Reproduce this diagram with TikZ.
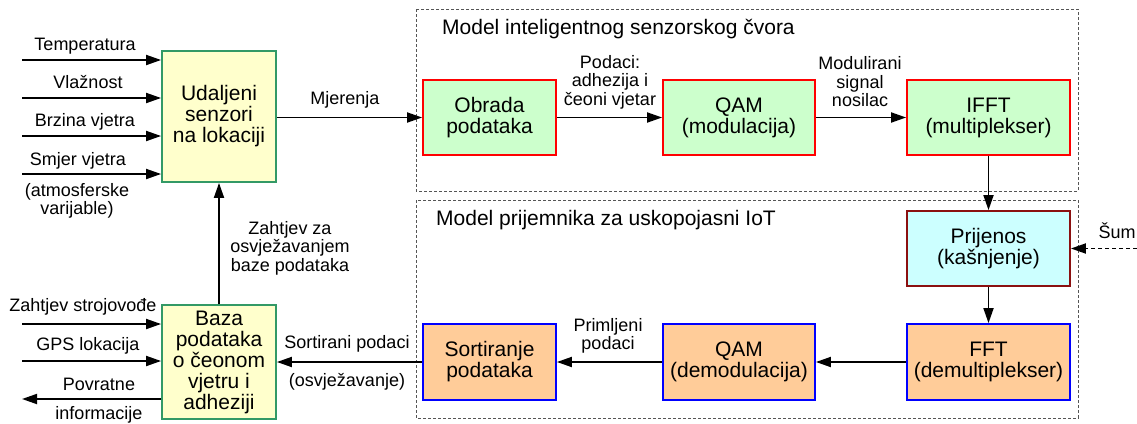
\documentclass[tikz,border=0pt]{standalone}
\usepackage{fontspec}
\setmainfont{Liberation Sans}
\usetikzlibrary{arrows.meta}
\definecolor{yfill}{HTML}{FFFFCC}
\definecolor{ydraw}{HTML}{339966}
\definecolor{gfill}{HTML}{CCFFCC}
\definecolor{ofill}{HTML}{FFCC99}
\definecolor{cfill}{HTML}{CCFFFF}
\definecolor{dred}{HTML}{8B1010}
\definecolor{frame}{HTML}{555555}
\tikzset{
  box/.style={draw, line width=1.8pt, align=center, inner sep=0pt,
    font=\fontsize{21}{21}\selectfont},
  ybox/.style={box, fill=yfill, draw=ydraw},
  gbox/.style={box, fill=gfill, draw=red},
  obox/.style={box, fill=ofill, draw=blue},
  cbox/.style={box, fill=cfill, draw=dred},
  lbl/.style={align=center, inner sep=0pt, font=\fontsize{18}{18.5}\selectfont},
  ttl/.style={inner sep=0pt, anchor=base west, font=\fontsize{21}{21}\selectfont},
  arr/.style={line width=1.8pt, -{Triangle[length=15pt,width=10pt]}},
  frm/.style={draw=frame, line width=0.9pt, dash pattern=on 3pt off 2pt},
}
\begin{document}
\begin{tikzpicture}[x=1pt,y=-1pt]
\useasboundingbox (0,0) rectangle (1137,423);
% frames
\draw[frm] (416,9) rectangle (1078,191);
\draw[frm] (416,200) rectangle (1078,418);
\node[ttl] (t1) at (442,34) {Model inteligentnog senzorskog čvora};
\node[ttl] (t2) at (436,225) {Model prijemnika za uskopojasni IoT};
% boxes
\node[ybox, minimum width=114pt, minimum height=131pt] (ud) at (219,116.5) {Udaljeni\\senzori\\na lokaciji};
\node[ybox, minimum width=114pt, minimum height=114pt] (db) at (219,362) {Baza\\podataka\\o čeonom\\vjetru i\\adheziji};
\node[gbox, minimum width=133pt, minimum height=75pt] (ob) at (489.5,117.5) {Obrada\\podataka};
\node[gbox, minimum width=152pt, minimum height=75pt] (qm) at (739,117.5) {QAM\\(modulacija)};
\node[gbox, minimum width=163pt, minimum height=75pt] (if) at (988.5,117.5) {IFFT\\(multiplekser)};
\node[cbox, minimum width=163pt, minimum height=75pt] (pr) at (988.5,248.5) {Prijenos\\(kašnjenje)};
\node[obox, minimum width=163pt, minimum height=76pt] (ff) at (988.5,362) {FFT\\(demultiplekser)};
\node[obox, minimum width=152pt, minimum height=76pt] (qd) at (739,362) {QAM\\(demodulacija)};
\node[obox, minimum width=133pt, minimum height=76pt] (so) at (489.5,362) {Sortiranje\\podataka};
% inputs left
\coordinate (i1) at (22,60);
\coordinate (i2) at (22,98);
\coordinate (i3) at (22,136);
\coordinate (i4) at (22,174);
\coordinate (i5) at (22,324);
\coordinate (i6) at (22,361);
\coordinate (o1) at (22,399);
\draw[arr] (i1) -- (i1 -| ud.west);
\draw[arr] (i2) -- (i2 -| ud.west);
\draw[arr] (i3) -- (i3 -| ud.west);
\draw[arr] (i4) -- (i4 -| ud.west);
\draw[arr] (i5) -- (i5 -| db.west);
\draw[arr] (i6) -- (i6 -| db.west);
\draw[arr] (o1 -| db.west) -- (o1);
\node[lbl, anchor=base] (l1) at (85,50) {Temperatura};
\node[lbl, anchor=base] (l2) at (88,88) {Vlažnost};
\node[lbl, anchor=base] (l3) at (85,126) {Brzina vjetra};
\node[lbl, anchor=base] (l4) at (78,165) {Smjer vjetra};
\node[lbl] (l5) at (77,201) {(atmosferske\\varijable)};
\node[lbl, anchor=base] (l6) at (83,311) {Zahtjev strojovođe};
\node[lbl, anchor=base] (l7) at (88,350) {GPS lokacija};
\node[lbl, anchor=base] (l8) at (99,390) {Povratne};
\node[lbl, anchor=base] (l9) at (99,419) {informacije};
% main flow
\draw[arr] (ud.east |- ob.west) -- (ob.west);
\node[lbl, anchor=base] (lm) at (345,104) {Mjerenja};
\draw[arr] (ob) -- (qm);
\node[lbl] (lp) at (610,82) {Podaci:\\adhezija i\\čeoni vjetar};
\draw[arr] (qm) -- (if);
\node[lbl] (lmod) at (860,82) {Modulirani\\signal\\nosilac};
\draw[arr] (if) -- (pr);
\coordinate (sum) at (1137,248.5);
\draw[arr, dash pattern=on 4pt off 3pt] (sum) -- (pr.east);
\node[lbl, anchor=base] (ls) at (1117,238) {Šum};
\draw[arr] (pr) -- (ff);
\draw[arr] (ff) -- (qd);
\draw[arr] (qd) -- (so);
\node[lbl] (lpr) at (608,336) {Primljeni\\podaci};
\draw[arr] (so) -- (db);
\node[lbl, anchor=base] (lso) at (347,348) {Sortirani podaci};
\node[lbl, anchor=base] (lsv) at (347,386) {(osvježavanje)};
\draw[arr] (db) -- (ud);
\node[lbl] (lz) at (290,248) {Zahtjev za\\osvježavanjem\\baze podataka};
\end{tikzpicture}
\end{document}
